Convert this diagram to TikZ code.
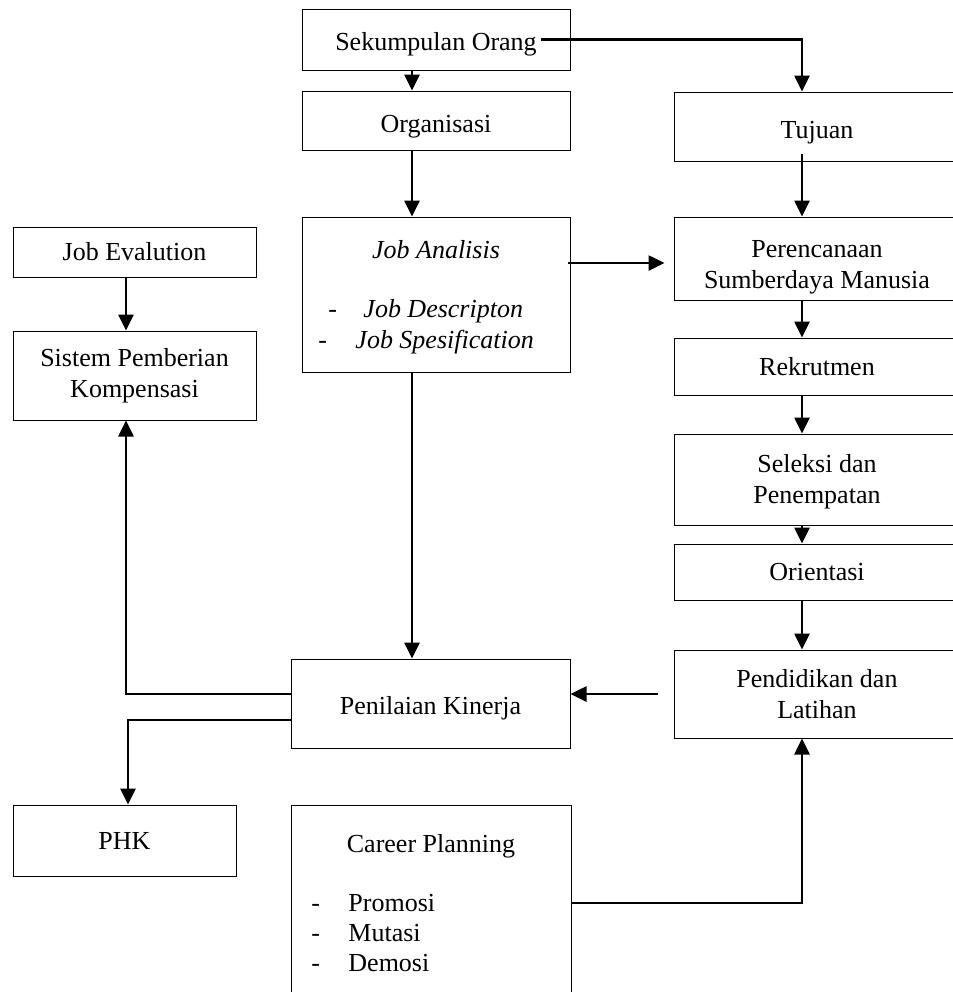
\documentclass[tikz,border=0pt]{standalone}
\usepackage{fontspec}
\setmainfont{Liberation Serif}
\usetikzlibrary{arrows.meta,calc}
\newcommand{\turun}[2]{\raisebox{-#1}[\height][\depth]{\begin{tabular}{@{}c@{}}#2\end{tabular}}}

\begin{document}
\begin{tikzpicture}[x=0.5pt, y=-0.5pt, >={Triangle[length=8pt,width=7.5pt]},
		kotak/.style={draw, line width=0.5pt, inner sep=0pt, align=center, font=\fontsize{13}{15.5}\selectfont},
		teks/.style={inner sep=0pt, font=\fontsize{13}{15.5}\selectfont},
		panah/.style={->, line width=1.3pt}]
	\useasboundingbox (0,0) rectangle (953,992);
	% kolom tengah
	\node[kotak, minimum width=134pt, minimum height=30.5pt] (sek) at (436,39.5) {\turun{2.5pt}{Sekumpulan Orang}};
	\node[kotak, minimum width=134pt, minimum height=29.5pt] (org) at (436,120.5) {\turun{3pt}{Organisasi}};
	\node[kotak, minimum width=134pt, minimum height=77.5pt] (jan) at (436,294.5) {};
	\node[teks] (janjudul) at (436,250) {\textit{Job Analisis}};
	\node[teks, anchor=west] (jan1) at (328,311) {-\hspace{13.2pt}\textit{Job Descripton}};
	\node[teks, anchor=west] (jan2) at (318,342) {-\hspace{14.2pt}\textit{Job Spesification}};
	\node[kotak, minimum width=139.5pt, minimum height=44.5pt] (pki) at (430.5,703.5) {\turun{2.5pt}{Penilaian Kinerja}};
	\node[kotak, minimum width=140pt, minimum height=97.5pt] (car) at (431,902.5) {};
	\node[teks] (carjudul) at (431,846) {Career Planning};
	\node[teks, anchor=west] (car1) at (311,903) {-\hspace{14.2pt}Promosi};
	\node[teks, anchor=west] (car2) at (311,933) {-\hspace{14.2pt}Mutasi};
	\node[teks, anchor=west] (car3) at (311,963) {-\hspace{14.2pt}Demosi};
	% kolom kanan
	\node[kotak, minimum width=143pt, minimum height=34.5pt] (tuj) at (817,126.5) {\turun{3pt}{Tujuan}};
	\node[kotak, minimum width=143pt, minimum height=41.5pt] (ren) at (817,258.5) {\turun{4pt}{Perencanaan\\Sumberdaya Manusia}};
	\node[kotak, minimum width=143pt, minimum height=28.5pt] (rek) at (817,366.5) {Rekrutmen};
	\node[kotak, minimum width=143pt, minimum height=45.5pt] (sel) at (817,479.5) {\turun{1pt}{Seleksi dan\\Penempatan}};
	\node[kotak, minimum width=143pt, minimum height=28pt] (ori) at (817,572) {Orientasi};
	\node[kotak, minimum width=143pt, minimum height=44pt] (pen) at (817,694) {Pendidikan dan\\Latihan};
	% kolom kiri
	\node[kotak, minimum width=121.5pt, minimum height=25pt] (jev) at (134.5,252) {Job Evalution};
	\node[kotak, minimum width=121.5pt, minimum height=44.5pt] (sis) at (134.5,375.5) {Sistem Pemberian\\Kompensasi};
	\node[kotak, minimum width=111.5pt, minimum height=35.5pt] (phk) at (124.5,840.5) {\turun{1.5pt}{PHK}};
	% jalur panah
	\coordinate (xt) at (412,0);
	\coordinate (xk) at (802,0);
	\coordinate (xs) at (126,0);
	\coordinate (yj) at (0,263);
	\coordinate (yp) at (0,720);
	\draw[panah] (sek.south -| xt) -- (org.north -| xt);
	\draw[panah] ($(sek.east)+(-30,0)$) -| (tuj.north -| xk);
	\draw[panah] (org.south -| xt) -- (jan.north -| xt);
	\draw[panah] ($(tuj.south -| xk)+(0,-8)$) -- (ren.north -| xk);
	\draw[panah] ($(jan.east |- yj)+(-3,0)$) -- ($(ren.west |- yj)+(-9,0)$);
	\draw[panah] (ren.south -| xk) -- (rek.north -| xk);
	\draw[panah] (rek.south -| xk) -- (sel.north -| xk);
	\draw[panah] (sel.south -| xk) -- (ori.north -| xk);
	\draw[panah] (ori.south -| xk) -- (pen.north -| xk);
	\draw[panah] ($(pen.west)+(-16,0)$) -- (pki.east |- pen.west);
	\draw[panah] (jan.south -| xt) -- (pki.north -| xt);
	\draw[panah] (jev.south -| xs) -- (sis.north -| xs);
	\draw[panah] (pki.west |- pen.west) -| (sis.south -| xs);
	\draw[panah] (pki.west |- yp) -| ($(phk.north)+(3.5,0)$);
	\draw[panah] (car.east |- car1) -| (pen.south -| xk);
\end{tikzpicture}
\end{document}
